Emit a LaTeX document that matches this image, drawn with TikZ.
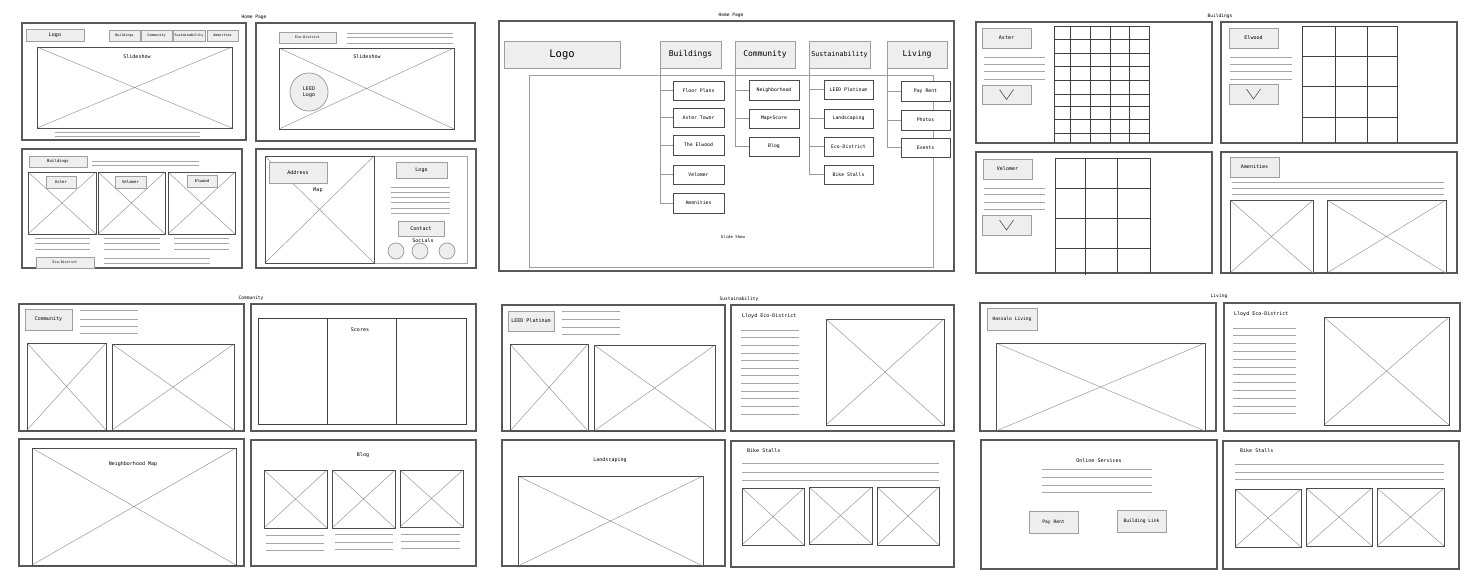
\documentclass[tikz,border=0pt]{standalone}
\usepackage{fontspec}
\setmainfont{DejaVu Sans Mono}
\newcommand\wfbox[7]{\node[#6, inner sep=0pt, outer sep=0pt, minimum width={(#4-#2)*1pt}, minimum height={(#5-#3)*1pt}] (#1) at ({(#2+#4)/2},{(#3+#5)/2}) {#7};}
\tikzset{
 frame/.style={draw=black!65, line width=1.1pt, fill=white},
 img/.style={draw=black!70, line width=0.9pt, path picture={\draw[gray!80, line width=0.5pt] (path picture bounding box.north west) -- (path picture bounding box.south east) (path picture bounding box.south west) -- (path picture bounding box.north east);}},
 btn/.style={draw=gray!75, line width=0.8pt, fill=gray!13, font=\fontsize{5}{6}\selectfont},
 sbtn/.style={btn, font=\fontsize{3.4}{4}\selectfont},
 kid/.style={draw=black!70, line width=0.9pt, fill=white, font=\fontsize{4.8}{6}\selectfont},
 head/.style={btn, font=\fontsize{8}{9}\selectfont},
 tline/.style={draw=gray!70, line width=0.7pt},
 gridl/.style={draw=black!75, line width=0.9pt},
 conn/.style={draw=gray!80, line width=0.8pt},
 lbl/.style={font=\fontsize{5}{6}\selectfont, inner sep=0pt},
 ttl/.style={font=\fontsize{4.6}{5}\selectfont, inner sep=0pt},
 chev/.style={draw=black!70, line width=0.6pt},
}
\begin{document}
\begin{tikzpicture}[x=1pt,y=-1pt]
\fill[white] (0,0) rectangle (1472,582);
\useasboundingbox (0,0) rectangle (1472,582);

% ---------- titles
\node[ttl] (t1) at (254,17) {Home Page};
\node[ttl] (t2) at (731,15) {Home Page};
\node[ttl] (t3) at (1220,16) {Buildings};
\node[ttl] (t4) at (251,298) {Community};
\node[ttl] (t5) at (739,299) {Sustainability};
\node[ttl] (t6) at (1219,296) {Living};

% ---------- Home page panel 1
\wfbox{p1}{22}{23}{246}{140}{frame}{}
\wfbox{p1logo}{26}{29}{84}{41}{btn}{Logo}
\wfbox{p1b}{109}{30}{140}{41}{sbtn}{Buildings}
\wfbox{p1c}{141}{30}{172}{41}{sbtn}{Community}
\wfbox{p1s}{173}{30}{205}{41}{sbtn}{Sustainability}
\wfbox{p1a}{207}{30}{238}{41}{sbtn}{Amenities}
\wfbox{p1img}{37}{47}{232}{128}{img}{}
\node[lbl] (p1lbl) at (137,57) {Slideshow};
\draw[tline] (55,132) -- (200,132);
\draw[tline] (55,136) -- (200,136);

% ---------- Home page panel 2
\wfbox{p2}{256}{23}{475}{141}{frame}{}
\wfbox{p2eco}{279}{32}{336}{43}{sbtn}{Eco-District}
\foreach \yy in {33,37.5,43} \draw[tline] (347,\yy) -- (453,\yy);
\wfbox{p2img}{279}{48}{454}{129}{img}{}
\node[lbl] (p2lbl) at (367,57) {Slideshow};
\node[btn, circle, inner sep=0pt, minimum size=38pt, align=center] (leed) at (309,92) {LEED\\Logo};

% ---------- Home page panel 3
\wfbox{p3}{22}{149}{242}{268}{frame}{}
\wfbox{p3b}{29}{156}{87}{167}{btn, font=\fontsize{4}{5}\selectfont}{Buildings}
\draw[tline] (92,161) -- (199,161);
\draw[tline] (92,165) -- (199,165);
\wfbox{p3i1}{28}{172}{96}{234}{img}{}
\wfbox{p3i2}{98}{172}{165}{234}{img}{}
\wfbox{p3i3}{168}{172}{235}{234}{img}{}
\wfbox{p3aster}{46}{176}{76}{188}{btn, font=\fontsize{4}{5}\selectfont}{Aster}
\wfbox{p3velo}{115}{176}{146}{188}{btn, font=\fontsize{4}{5}\selectfont}{Velomer}
\wfbox{p3elw}{187}{175}{217}{187}{btn, font=\fontsize{4}{5}\selectfont}{Elwood}
\foreach \yy in {238,243,249} {
  \draw[tline] (35,\yy) -- (90,\yy);
  \draw[tline] (104,\yy) -- (160,\yy);
  \draw[tline] (174,\yy) -- (229,\yy);
}
\wfbox{p3eco}{36}{257}{94}{268}{sbtn}{Eco-District}
\draw[tline] (104,258) -- (210,258);
\draw[tline] (104,263) -- (210,263);

% ---------- Home page panel 4
\wfbox{p4}{256}{149}{476}{268}{frame}{}
\wfbox{p4in}{265}{156}{467}{263}{draw=gray!70, line width=0.8pt}{}
\wfbox{p4map}{265}{156}{374}{263}{img}{}
\wfbox{p4addr}{269}{162}{327}{183}{btn}{Address}
\node[lbl] (p4lbl) at (318,190) {Map};
\wfbox{p4logo}{396}{162}{447}{178}{btn}{Logo}
\foreach \yy in {187,192,197,202,208,213} \draw[tline] (391,\yy) -- (450,\yy);
\wfbox{p4contact}{398}{221}{444}{236}{btn}{Contact}
\node[lbl] (p4soc) at (423,241) {Socials};
\node[btn, circle, inner sep=0pt, minimum size=16pt] (soc1) at (396,251) {};
\node[btn, circle, inner sep=0pt, minimum size=16pt] (soc2) at (420,251) {};
\node[btn, circle, inner sep=0pt, minimum size=16pt] (soc3) at (447,251) {};

% ---------- Sitemap
\wfbox{sm}{499}{21}{954}{271}{frame}{}
\wfbox{smslide}{529}{75}{933}{267}{draw=gray!75, line width=0.8pt}{}
\node[font=\fontsize{4}{5}\selectfont, inner sep=0pt] (smlbl) at (733,237) {Slide Show};
\wfbox{hlogo}{504}{41}{620}{68}{btn, font=\fontsize{10.5}{12}\selectfont}{Logo}
\wfbox{hb}{660}{41}{721}{68}{head}{Buildings}
\wfbox{hc}{735}{41}{795}{68}{head}{Community}
\wfbox{hs}{809}{41}{870}{68}{head, font=\fontsize{6.7}{8}\selectfont}{Sustainability}
\wfbox{hl}{887}{41}{947}{68}{head}{Living}
% children
\wfbox{b1}{673}{81}{724}{100}{kid}{Floor Plans}
\wfbox{b2}{673}{108}{724}{127}{kid}{Aster Tower}
\wfbox{b3}{673}{135}{724}{155}{kid}{The Elwood}
\wfbox{b4}{673}{165}{724}{184}{kid}{Velomer}
\wfbox{b5}{673}{193}{724}{213}{kid}{Amenities}
\wfbox{c1}{749}{80}{799}{100}{kid}{Neighborhood}
\wfbox{c2}{749}{109}{799}{128}{kid}{Map+Score}
\wfbox{c3}{749}{137}{799}{156}{kid}{Blog}
\wfbox{s1}{824}{80}{873}{99}{kid}{LEED Platinum}
\wfbox{s2}{824}{109}{873}{128}{kid}{Landscaping}
\wfbox{s3}{824}{137}{873}{156}{kid}{Eco-District}
\wfbox{s4}{824}{165}{873}{184}{kid}{Bike Stalls}
\wfbox{l1}{901}{81}{950}{101}{kid}{Pay Rent}
\wfbox{l2}{901}{110}{950}{130}{kid}{Photos}
\wfbox{l3}{901}{138}{950}{157}{kid}{Events}
\foreach \k in {b1,b2,b3,b4,b5} \draw[conn] (hb.south west) |- (\k.west);
\foreach \k in {c1,c2,c3} \draw[conn] (hc.south west) |- (\k.west);
\foreach \k in {s1,s2,s3,s4} \draw[conn] (hs.south west) |- (\k.west);
\foreach \k in {l1,l2,l3} \draw[conn] (hl.south west) |- (\k.west);

% ---------- Buildings A (Aster)
\wfbox{ba}{976}{22}{1212}{143}{frame}{}
\wfbox{babtn}{982}{28}{1031}{48}{btn}{Aster}
\foreach \yy in {57,64,71,79} \draw[tline] (984,\yy) -- (1045,\yy);
\wfbox{badd}{982}{85}{1031}{104}{btn}{}
\draw[chev] (badd.center) ++(-7,-5) -- ++(7,10) -- ++(7,-10);
\foreach \xx in {1054,1070,1090,1110,1129,1149} \draw[gridl] (\xx,26) -- (\xx,143);
\foreach \yy in {26,39,53,66,80,94,106,119,133} \draw[gridl] (1054,\yy) -- (1149,\yy);

% ---------- Buildings B (Elwood)
\wfbox{bb}{1221}{22}{1457}{143}{frame}{}
\wfbox{bbbtn}{1229}{28}{1278}{48}{btn}{Elwood}
\foreach \yy in {57,64,71,79} \draw[tline] (1230,\yy) -- (1292,\yy);
\wfbox{bbdd}{1229}{84}{1278}{104}{btn}{}
\draw[chev] (bbdd.center) ++(-7,-5) -- ++(7,10) -- ++(7,-10);
\foreach \xx in {1302,1335,1367,1397} \draw[gridl] (\xx,26) -- (\xx,143);
\foreach \yy in {26,56,86,117} \draw[gridl] (1302,\yy) -- (1397,\yy);

% ---------- Buildings C (Velomer)
\wfbox{bc}{976}{152}{1212}{273}{frame}{}
\wfbox{bcbtn}{983}{159}{1032}{179}{btn}{Velomer}
\foreach \yy in {188,194,202,209} \draw[tline] (984,\yy) -- (1045,\yy);
\wfbox{bcdd}{982}{215}{1031}{235}{btn}{}
\draw[chev] (bcdd.center) ++(-7,-5) -- ++(7,10) -- ++(7,-10);
\foreach \xx in {1055,1117,1150} \draw[gridl] (\xx,158) -- (\xx,273);
\draw[gridl] (1085,158) -- (1085,275);
\foreach \yy in {158,188,218,248} \draw[gridl] (1055,\yy) -- (1150,\yy);

% ---------- Buildings D (Amenities)
\wfbox{bd}{1221}{152}{1457}{273}{frame}{}
\wfbox{bdbtn}{1230}{157}{1279}{177}{btn}{Amenities}
\foreach \yy in {182,188,194} \draw[tline] (1232,\yy) -- (1444,\yy);
\wfbox{bdi1}{1230}{200}{1313}{273}{img}{}
\wfbox{bdi2}{1327}{200}{1446}{273}{img}{}

% ---------- Community
\wfbox{ca}{19}{304}{244}{431}{frame}{}
\wfbox{cabtn}{25}{309}{72}{330}{btn}{Community}
\foreach \yy in {310,319,326,333} \draw[tline] (80,\yy) -- (138,\yy);
\wfbox{cai1}{27}{343}{106}{430}{img}{}
\wfbox{cai2}{112}{344}{234}{430}{img}{}
\wfbox{cb}{251}{304}{476}{431}{frame}{}
\wfbox{sc1}{258}{318}{327}{424}{draw=black!75, line width=0.9pt}{}
\wfbox{sc2}{327}{318}{396}{424}{draw=black!75, line width=0.9pt}{}
\wfbox{sc3}{396}{318}{466}{424}{draw=black!75, line width=0.9pt}{}
\node[lbl] (sclbl) at (360,330) {Scores};
\wfbox{cc}{19}{439}{244}{566}{frame}{}
\wfbox{cci}{32}{448}{236}{565}{img}{}
\node[lbl] (cclbl) at (133,464) {Neighborhood Map};
\wfbox{cd}{251}{440}{476}{566}{frame}{}
\node[lbl] (cdlbl) at (363,455) {Blog};
\wfbox{cdi1}{264}{470}{327}{528}{img}{}
\wfbox{cdi2}{332}{470}{395}{528}{img}{}
\wfbox{cdi3}{400}{470}{463}{527}{img}{}
\foreach \yy in {535,543,550} \draw[tline] (266,\yy) -- (324,\yy);
\foreach \yy in {534,542,549} \draw[tline] (335,\yy) -- (393,\yy);
\foreach \yy in {534,541,548} \draw[tline] (401,\yy) -- (460,\yy);

% ---------- Sustainability
\wfbox{sa}{502}{305}{725}{431}{frame}{}
\wfbox{sabtn}{508}{311}{554}{331}{btn}{LEED Platinum}
\foreach \yy in {311,319,327,334} \draw[tline] (562,\yy) -- (620,\yy);
\wfbox{sai1}{510}{344}{588}{431}{img}{}
\wfbox{sai2}{594}{345}{715}{431}{img}{}
\wfbox{sb}{731}{305}{954}{431}{frame}{}
\node[lbl, anchor=west] (sblbl) at (742,316) {Lloyd Eco-District};
\foreach \i in {0,...,11} \draw[tline] (741,{330+7.64*\i}) -- (799,{330+7.64*\i});
\wfbox{sbi}{826}{319}{944}{425}{img}{}
\wfbox{sc}{502}{440}{725}{566}{frame}{}
\node[lbl] (sclbl2) at (610,460) {Landscaping};
\wfbox{sci}{518}{476}{703}{566}{img}{}
\wfbox{sd}{731}{441}{954}{567}{frame}{}
\node[lbl, anchor=west] (sdlbl) at (747,451) {Bike Stalls};
\foreach \yy in {463,472,480} \draw[tline] (742,\yy) -- (939,\yy);
\wfbox{sdi1}{742}{488}{804}{545}{img}{}
\wfbox{sdi2}{809}{487}{872}{544}{img}{}
\wfbox{sdi3}{877}{487}{939}{545}{img}{}

% ---------- Living
\wfbox{la}{980}{303}{1216}{431}{frame}{}
\wfbox{labtn}{987}{308}{1037}{330}{btn, font=\fontsize{4.6}{5}\selectfont}{Hassalo Living}
\wfbox{lai}{996}{343}{1205}{431}{img}{}
\wfbox{lb}{1224}{303}{1460}{431}{frame}{}
\node[lbl, anchor=west] (lblbl) at (1234,314) {Lloyd Eco-District};
\foreach \i in {0,...,11} \draw[tline] (1233,{328+7.8*\i}) -- (1296,{328+7.8*\i});
\wfbox{lbi}{1324}{317}{1449}{425}{img}{}
\wfbox{lc}{981}{440}{1217}{569}{frame}{}
\node[lbl] (lclbl) at (1099,461) {Online Services};
\foreach \yy in {469,477,485,492} \draw[tline] (1042,\yy) -- (1152,\yy);
\wfbox{lcpay}{1029}{511}{1078}{533}{btn, font=\fontsize{4.6}{5}\selectfont}{Pay Rent}
\wfbox{lcbl}{1117}{510}{1166}{532}{btn, font=\fontsize{4.6}{5}\selectfont}{Building Link}
\wfbox{ld}{1223}{441}{1459}{569}{frame}{}
\node[lbl, anchor=west] (ldlbl) at (1240,451) {Bike Stalls};
\foreach \yy in {464,472,479} \draw[tline] (1235,\yy) -- (1444,\yy);
\wfbox{ldi1}{1235}{489}{1301}{547}{img}{}
\wfbox{ldi2}{1306}{488}{1372}{546}{img}{}
\wfbox{ldi3}{1377}{488}{1444}{546}{img}{}
\end{tikzpicture}
\end{document}
